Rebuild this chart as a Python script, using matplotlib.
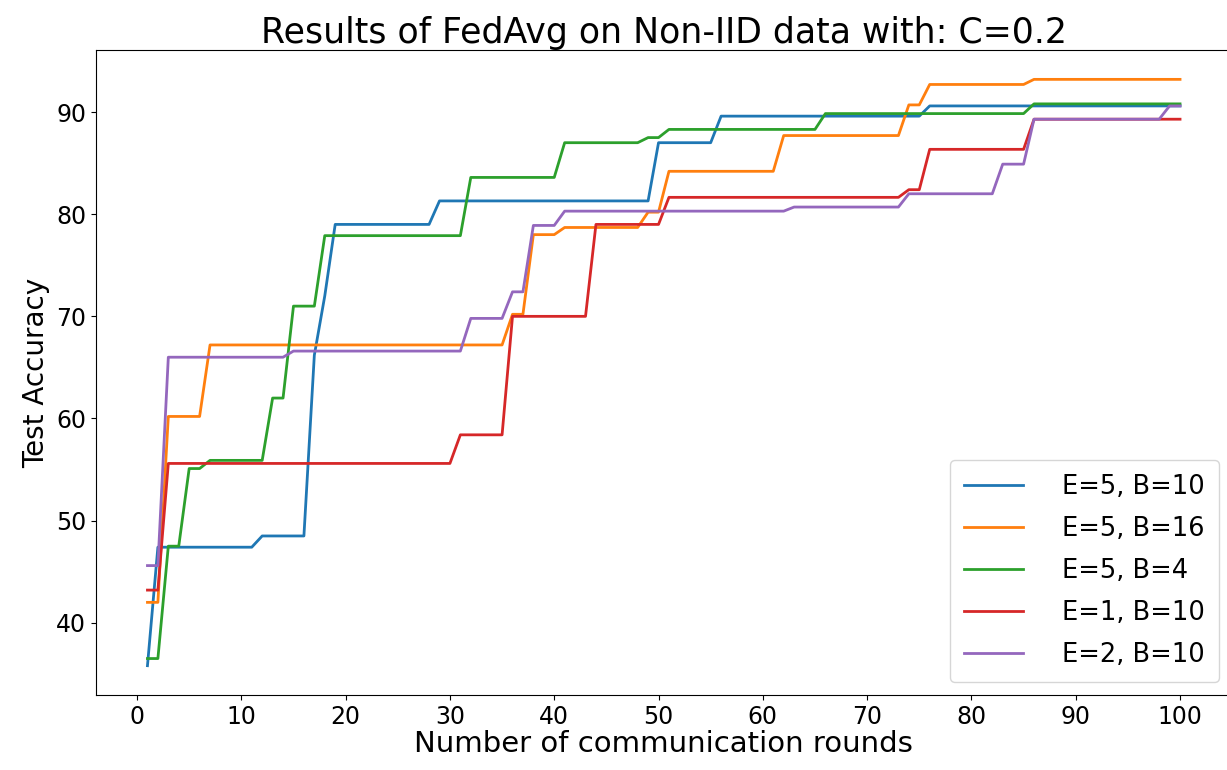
import matplotlib
matplotlib.use('Agg')
import matplotlib.pyplot as plt

rounds = list(range(1, 101))

# best test accuracy so far, one value per communication round
acc_e5_b10 = ([35.8] + [47.4] * 10 + [48.5] * 5 + [66.2, 72.0] + [79.0] * 10
              + [81.3] * 21 + [87.0] * 6 + [89.6] * 20 + [90.6] * 25)
acc_e5_b16 = ([42.0] * 2 + [60.2] * 4 + [67.2] * 29 + [70.2] * 2 + [78.0] * 3
              + [78.7] * 8 + [80.2] * 2 + [84.2] * 11 + [87.7] * 12 + [90.7] * 2
              + [92.7] * 10 + [93.2] * 15)
acc_e5_b4 = ([36.5] * 2 + [47.5] * 2 + [55.1] * 2 + [55.9] * 6 + [62.0] * 2
             + [71.0] * 3 + [77.9] * 14 + [83.6] * 9 + [87.0] * 8 + [87.5] * 2
             + [88.3] * 15 + [89.85] * 20 + [90.8] * 15)
acc_e1_b10 = ([43.2] * 2 + [55.6] * 28 + [58.4] * 5 + [70.0] * 8 + [79.0] * 7
              + [81.65] * 23 + [82.4] * 2 + [86.35] * 10 + [89.3] * 15)
acc_e2_b10 = ([45.6] * 2 + [66.0] * 12 + [66.6] * 17 + [69.8] * 4 + [72.4] * 2
              + [78.9] * 3 + [80.3] * 22 + [80.7] * 11 + [82.0] * 9 + [84.9] * 3
              + [89.3] * 13 + [90.6] * 2)

labels = ['E=5, B=10', 'E=5, B=16', 'E=5, B=4', 'E=1, B=10', 'E=2, B=10']
series = [acc_e5_b10, acc_e5_b16, acc_e5_b4, acc_e1_b10, acc_e2_b10]

fig = plt.figure(figsize=(12.27, 7.70), dpi=100)
ax = fig.add_axes([0.0781, 0.0974, 0.9257, 0.8376])

for acc, lab in zip(series, labels):
    ax.plot(rounds, acc, linewidth=2, label=lab)

ax.set_xticks(range(0, 101, 10))
ax.tick_params(labelsize=17)
ax.set_xlabel('Number of communication rounds', fontsize=21, labelpad=1)
ax.set_ylabel('Test Accuracy', fontsize=20)
ax.set_title('Results of FedAvg on Non-IID data with: C=0.2', fontsize=25, pad=5)
ax.legend(loc='lower right', fontsize=18.5, handlelength=2.3, handletextpad=1.5,
          labelspacing=0.62, borderpad=0.55)

plt.savefig('out.png', dpi=100)
